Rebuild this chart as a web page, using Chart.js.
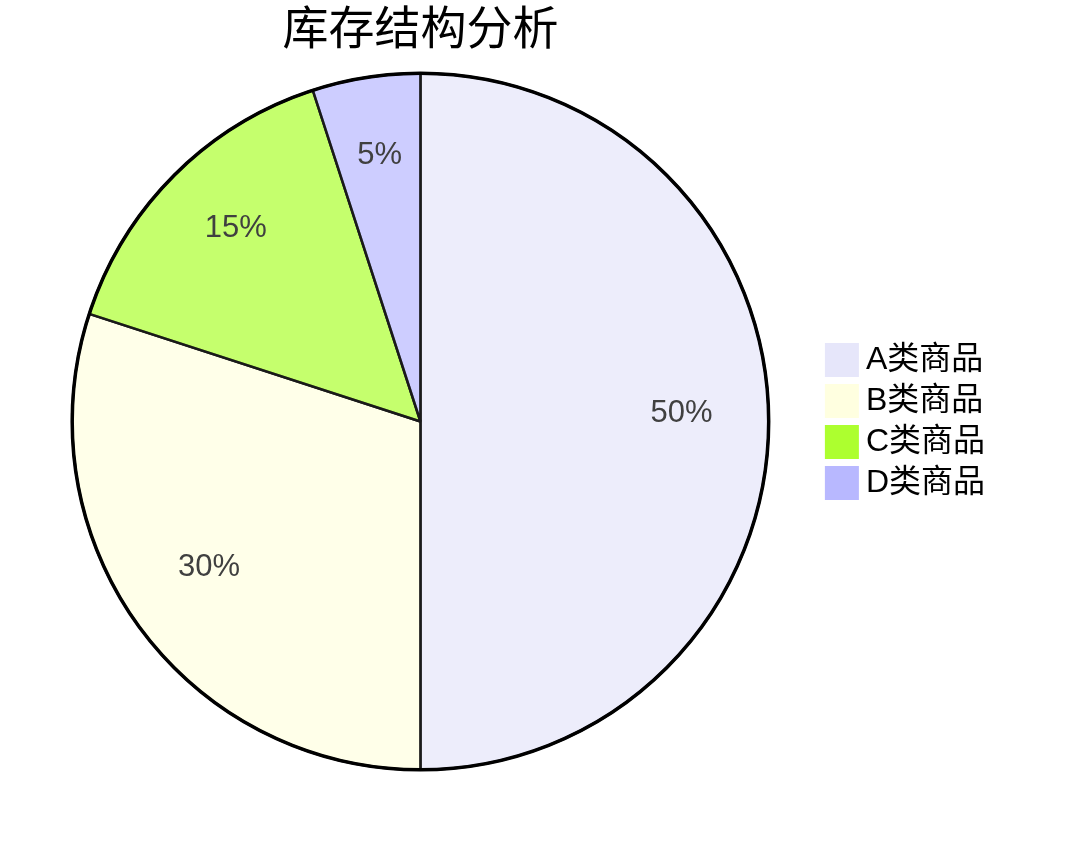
<!DOCTYPE html>
<html>
<head>
<meta charset="utf-8">
<script src="https://cdn.jsdelivr.net/npm/chart.js@4/dist/chart.umd.min.js"></script>
<style>
	html, body { margin: 0; padding: 0; background: #fff; }
	#wrap { width: 1080px; height: 845px; }
</style>
</head>
<body>
<div id="wrap"><canvas id="stock-chart" width="1080" height="845"></canvas></div>
<script>
const chartTitle = "库存结构分析";
const categories = ["A类商品", "B类商品", "C类商品", "D类商品"];
const shares = [50, 30, 15, 5];
const legendColors = ["#e6e6fa", "#ffffe0", "#adff2f", "#b8b8ff"];
const sliceColors = ["rgba(230,230,250,0.7)", "rgba(255,255,224,0.7)", "rgba(173,255,47,0.7)", "rgba(184,184,255,0.7)"];

const fontFamily = "'Liberation Sans', Arial, 'Noto Sans CJK SC', sans-serif";
const swatch = 34;

// percent labels inside slices, thicker outer ring, title over the pie
const sliceLabels = {
	id: "sliceLabels",
	afterDatasetsDraw(chart) {
		const ctx = chart.ctx;
		const meta = chart.getDatasetMeta(0);
		ctx.save();
		let cx = 0, cy = 0, r = 0;
		meta.data.forEach((arc, i) => {
			const p = arc.getProps(["x", "y", "startAngle", "endAngle", "outerRadius"], true);
			cx = p.x; cy = p.y; r = p.outerRadius;
			const mid = (p.startAngle + p.endAngle) / 2;
			const d = p.outerRadius * 0.75;
			ctx.fillStyle = "#404040";
			ctx.font = "31px " + fontFamily;
			ctx.textAlign = "center";
			ctx.textBaseline = "middle";
			ctx.fillText(shares[i] + "%", cx + Math.cos(mid) * d, cy + Math.sin(mid) * d - 8);
		});
		ctx.beginPath();
		ctx.arc(cx, cy, r, 0, Math.PI * 2);
		ctx.lineWidth = 3.5;
		ctx.strokeStyle = "#000";
		ctx.stroke();

		ctx.fillStyle = "#000";
		ctx.font = "46px " + fontFamily;
		ctx.textAlign = "center";
		ctx.textBaseline = "middle";
		ctx.fillText(chartTitle, cx, 31);
		ctx.restore();
	},
	// bigger square swatches sitting close to the text
	afterDraw(chart) {
		const ctx = chart.ctx;
		const boxes = chart.legend.legendHitBoxes || [];
		ctx.save();
		boxes.forEach((b, i) => {
			ctx.fillStyle = legendColors[i];
			ctx.fillRect(b.left, b.top + b.height / 2 - swatch / 2, swatch, swatch);
		});
		ctx.restore();
	}
};

new Chart(document.getElementById("stock-chart").getContext("2d"), {
	type: "pie",
	data: {
		labels: categories,
		datasets: [{
			data: shares,
			backgroundColor: sliceColors,
			borderColor: "#1a1a1a",
			borderWidth: 2.5
		}]
	},
	options: {
		responsive: false,
		animation: false,
		layout: { padding: { left: 25, right: 85, bottom: 74, top: 72 } },
		plugins: {
			title: { display: false },
			legend: {
				position: "right",
				labels: {
					boxWidth: 25,
					boxHeight: 25,
					padding: 9,
					color: "#000",
					font: { size: 32, family: fontFamily },
					generateLabels: () => categories.map((c, i) => ({
						text: c,
						fillStyle: "rgba(0,0,0,0)",
						strokeStyle: "rgba(0,0,0,0)",
						lineWidth: 0,
						index: i
					}))
				}
			},
			tooltip: { enabled: false }
		}
	},
	plugins: [sliceLabels]
});
</script>
</body>
</html>
